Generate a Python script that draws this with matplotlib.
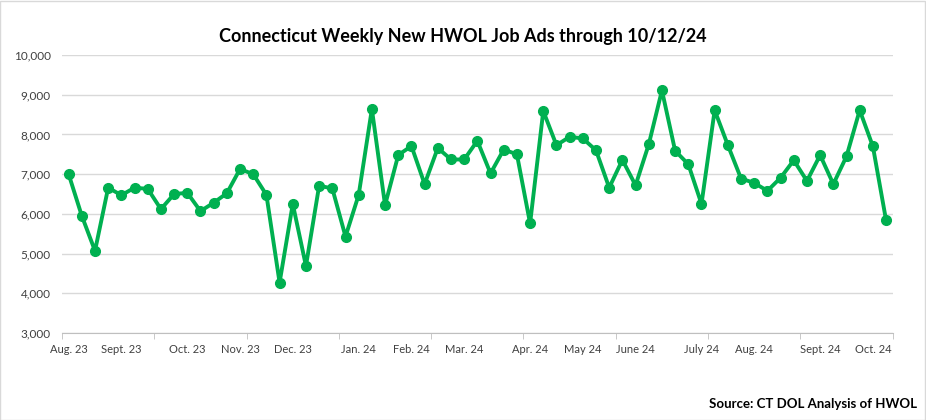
import matplotlib.pyplot as plt
import numpy as np
from matplotlib.patches import Rectangle
from matplotlib.ticker import FuncFormatter

# Weekly new job ads, 63 weeks ending 10/12/24
job_ads = [
    7000, 5950, 5070, 6660, 6470, 6660, 6630, 6120, 6500, 6530,
    6070, 6280, 6520, 7130, 7000, 6480, 4270, 6250, 4690, 6710,
    6640, 5430, 6480, 8640, 6220, 7480, 7710, 6750, 7660, 7370,
    7370, 7840, 7020, 7620, 7500, 5760, 8590, 7730, 7940, 7900,
    7600, 6660, 7360, 6720, 7750, 9110, 7590, 7250, 6250, 8610,
    7730, 6890, 6780, 6580, 6910, 7350, 6830, 7480, 6750, 7450,
    8610, 7700, 5840,
]

# month labels sit on the first week of each month
month_idx = [0, 4, 9, 13, 17, 22, 26, 30, 35, 39, 43, 48, 52, 57, 61]
month_labels = [
    "Aug. 23", "Sept. 23", "Oct. 23", "Nov. 23", "Dec. 23",
    "Jan. 24", "Feb. 24", "Mar. 24", "Apr. 24", "May 24",
    "June 24", "July 24", "Aug. 24", "Sept. 24", "Oct. 24",
]

plt.rcParams["font.family"] = ["Lato", "DejaVu Sans"]

fig = plt.figure(figsize=(9.26, 4.20), dpi=100)
ax = fig.add_axes([0.067, 0.207, 0.897, 0.662])

x = np.arange(len(job_ads))
green = "#00B050"
ax.plot(x, job_ads, color=green, linewidth=2.8, marker="o", markersize=7,
        markerfacecolor=green, markeredgecolor=green, zorder=3)

ax.set_xlim(-0.5, len(job_ads) - 0.5)
ax.set_ylim(3000, 10000)
ax.set_yticks(np.arange(3000, 10001, 1000))
ax.yaxis.set_major_formatter(FuncFormatter(lambda v, p: f"{int(v):,}"))
ax.grid(axis="y", color="#D9D9D9", linewidth=1, zorder=0)

ax.set_xticks(month_idx)
ax.set_xticklabels(month_labels)
ax.set_xticks(np.arange(-0.5, len(job_ads), 7), minor=True)
ax.tick_params(axis="x", which="major", length=0, pad=8, labelsize=8, colors="#404040")
ax.tick_params(axis="x", which="minor", length=4, color="#BFBFBF")
ax.tick_params(axis="y", length=0, pad=8, labelsize=8.5, colors="#404040")

for s in ["top", "right", "left"]:
    ax.spines[s].set_visible(False)
ax.spines["bottom"].set_color("#BFBFBF")

fig.text(0.5, 0.912, "Connecticut Weekly New HWOL Job Ads through 10/12/24",
         ha="center", va="center", fontsize=13, fontweight="bold")
fig.text(0.99, 0.025, "Source: CT DOL Analysis of HWOL",
         ha="right", va="bottom", fontsize=9.5, fontweight="bold")

fig.patches.append(Rectangle((0.0005, 0.001), 0.998, 0.997, transform=fig.transFigure,
                             fill=False, edgecolor="#D9D9D9", linewidth=1))

fig.savefig("out.png", dpi=100)
